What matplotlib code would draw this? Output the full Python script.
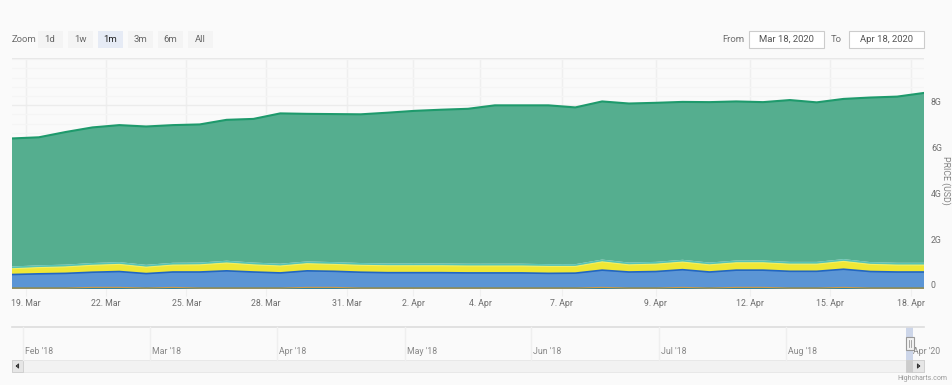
import numpy as np
import matplotlib
matplotlib.use("Agg")
import matplotlib.pyplot as plt
import matplotlib.transforms as mtransforms
from matplotlib.patches import Rectangle

plt.rcParams['font.family'] = ['Roboto', 'DejaVu Sans']

# stacked series, in billions USD, one value per trading point (ordinal axis)
teal = [0.04] * 35
orange = [0, 0, 0, 0.03, 0.03, 0, 0.03, 0, 0, 0, 0, 0.03, 0.03, 0, 0, 0, 0, 0,
          0, 0, 0, 0, 0.03, 0, 0, 0.03, 0, 0.03, 0.03, 0, 0, 0.03, 0, 0, 0]
blue = [0.59, 0.62, 0.64, 0.66, 0.69, 0.63, 0.67, 0.70, 0.75, 0.70, 0.66, 0.72,
        0.70, 0.69, 0.67, 0.67, 0.67, 0.66, 0.66, 0.66, 0.64, 0.65, 0.75, 0.70,
        0.72, 0.77, 0.70, 0.75, 0.75, 0.73, 0.73, 0.79, 0.72, 0.70, 0.70]
yellow = [0.25, 0.27, 0.28, 0.30, 0.31, 0.28, 0.30, 0.31, 0.34, 0.31, 0.30, 0.31,
          0.30, 0.30, 0.30, 0.30, 0.30, 0.30, 0.30, 0.30, 0.30, 0.29, 0.36, 0.31,
          0.32, 0.33, 0.31, 0.32, 0.32, 0.31, 0.31, 0.34, 0.31, 0.30, 0.30]
cyan = [0.10] * 35
green = [5.57, 5.57, 5.77, 5.90, 5.96, 6.02, 5.99, 6.01, 6.13, 6.25, 6.54, 6.42,
         6.44, 6.47, 6.56, 6.64, 6.69, 6.74, 6.89, 6.89, 6.91, 6.82, 6.88, 6.92,
         6.92, 6.87, 6.98, 6.92, 6.89, 7.04, 6.94, 6.97, 7.16, 7.23, 7.39]

tick_labels = ["19. Mar", "22. Mar", "25. Mar", "28. Mar", "31. Mar", "2. Apr",
               "4. Apr", "7. Apr", "9. Apr", "12. Apr", "15. Apr", "18. Apr"]
tick_pos = [0.52, 3.5, 6.5, 9.47, 12.5, 14.95, 17.45, 20.5, 24.0, 27.5, 30.5, 33.5]

nav_labels = ["Feb '18", "Mar '18", "Apr '18", "May '18", "Jun '18", "Jul '18",
              "Aug '18", "Apr '20"]
nav_pos = [23, 150, 277, 405, 531, 659, 786, 911]

zoom_buttons = ["1d", "1w", "1m", "3m", "6m", "All"]

W, H = 952, 385
bg = "#fafafa"
fig = plt.figure(figsize=(W / 100, H / 100), dpi=100, facecolor=bg)


def box(x0, y0, x1, y1):
    return [x0 / W, 1 - y1 / H, (x1 - x0) / W, (y1 - y0) / H]


# pixel overlay for the chrome (buttons, navigator, scrollbar)
ov = fig.add_axes([0, 0, 1, 1], zorder=0)
ov.set_xlim(0, W)
ov.set_ylim(H, 0)
ov.axis("off")

txt = "#6e6e6e"
ov.text(12, 40, "Zoom", fontsize=6.8, color=txt, va="center")
for i, lab in enumerate(zoom_buttons):
    cx = 50 + 30 * i
    sel = lab == "1m"
    ov.add_patch(Rectangle((cx - 12.5, 31), 25, 17, facecolor="#e6ebf5" if sel else "#f4f4f4",
                           edgecolor="none"))
    ov.text(cx, 39.5, lab, fontsize=6.8, color="#222222" if sel else "#666666",
            ha="center", va="center")

ov.text(744, 39.5, "From", fontsize=6.8, color=txt, ha="right", va="center")
ov.add_patch(Rectangle((749, 31), 75, 17, facecolor="white", edgecolor="#cccccc", lw=0.8))
ov.text(786.5, 39.5, "Mar 18, 2020", fontsize=6.8, color="#555555", ha="center", va="center")
ov.text(836, 39.5, "To", fontsize=6.8, color=txt, ha="center", va="center")
ov.add_patch(Rectangle((849, 31), 75, 17, facecolor="white", edgecolor="#cccccc", lw=0.8))
ov.text(886.5, 39.5, "Apr 18, 2020", fontsize=6.8, color="#555555", ha="center", va="center")

# navigator
ov.plot([12, 924], [327, 327], color="#dddddd", lw=1.2)
for p, lab in zip(nav_pos, nav_labels):
    if lab != "Apr '20":
        ov.plot([p, p], [327, 360], color="#efefef", lw=1)
    ov.text(p + 2, 352, lab, fontsize=6.3, color="#888888", va="center")
ov.add_patch(Rectangle((906, 327), 7, 33, facecolor="#6685c2", alpha=0.3, edgecolor="none"))
ov.add_patch(Rectangle((905.5, 337), 8, 13, facecolor="#f2f2f2", edgecolor="#999999", lw=0.8))
ov.plot([908.5, 908.5], [340, 347], color="#999999", lw=0.6)
ov.plot([910.5, 910.5], [340, 347], color="#999999", lw=0.6)

# scrollbar
ov.add_patch(Rectangle((12, 360), 912, 12, facecolor="#f2f2f2", edgecolor="#e6e6e6", lw=0.6))
ov.add_patch(Rectangle((12, 360), 11, 12, facecolor="#e6e6e6", edgecolor="#cccccc", lw=0.6))
ov.add_patch(Rectangle((912, 360), 12, 12, facecolor="#e6e6e6", edgecolor="#cccccc", lw=0.6))
ov.add_patch(Rectangle((906, 360), 6, 12, facecolor="#cccccc", edgecolor="#cccccc", lw=0.6))
ov.plot([16.5, 18.5, 18.5, 16.5], [366, 364, 368, 366], color="#333333", lw=0.8)
ov.plot([919.5, 917.5, 917.5, 919.5], [366, 364, 368, 366], color="#333333", lw=0.8)
ov.text(947, 378, "Highcharts.com", fontsize=5, color="#999999", ha="right", va="center")

# main plot
ax = fig.add_axes(box(12, 58, 924, 289), zorder=1)
ax.set_facecolor("none")
x = np.arange(len(green))
layers = [teal, orange, blue, yellow, cyan, green]
fills = ["#3f8a9e", "#f0a030", "#5b95d5", "#efe734", "#58c4b5", "#55ae8f"]
ax.stackplot(x, *layers, colors=fills, lw=0, zorder=2)
tops = np.cumsum(np.array(layers), axis=0)
ax.plot(x, tops[0], color="#357f94", lw=1.2, zorder=3)
ax.plot(x, tops[1], color="#f0a030", lw=0.8, alpha=0.8, zorder=3)
ax.plot(x, tops[2], color="#2166c2", lw=1.2, zorder=3)
ax.plot(x, tops[3], color="#f5ef60", lw=0.8, zorder=3)
ax.plot(x, tops[5], color="#1e9a6c", lw=1.5, zorder=3)

ax.set_xlim(0, len(green) - 1)
ax.set_ylim(0, 10.05)
ax.set_xticks(tick_pos, tick_labels)
ax.set_yticks([0, 2, 4, 6, 8], ["0", "2G", "4G", "6G", "8G"])
ax.set_yticks(np.arange(0, 10.05, 0.4), minor=True)
ax.yaxis.tick_right()
ax.tick_params(axis="x", length=5, color="#f0f0f0", labelsize=6.3, labelcolor=txt, pad=2)
ax.tick_params(axis="y", which="both", length=0, labelsize=6.3, labelcolor=txt, pad=5)
off = mtransforms.ScaledTranslation(0, 4 / 100, fig.dpi_scale_trans)
for lab in ax.get_yticklabels():
    lab.set_transform(lab.get_transform() + off)
ax.grid(axis="x", color="#efefef", lw=1, zorder=0)
ax.grid(axis="y", which="major", color="#ececec", lw=1, zorder=0)
ax.grid(axis="y", which="minor", color="#f5f5f5", lw=1, zorder=0)
ax.set_axisbelow(True)
for s in ax.spines.values():
    s.set_visible(False)
ax.plot([0, 1], [1, 1], transform=ax.transAxes, color="#e8e8e8", lw=1, zorder=1)

fig.text(946 / W, 1 - 180 / H, "PRICE (USD)", rotation=270, fontsize=6.3, color="#808080",
         ha="center", va="center")

fig.savefig("out.png", dpi=100, facecolor=bg)
